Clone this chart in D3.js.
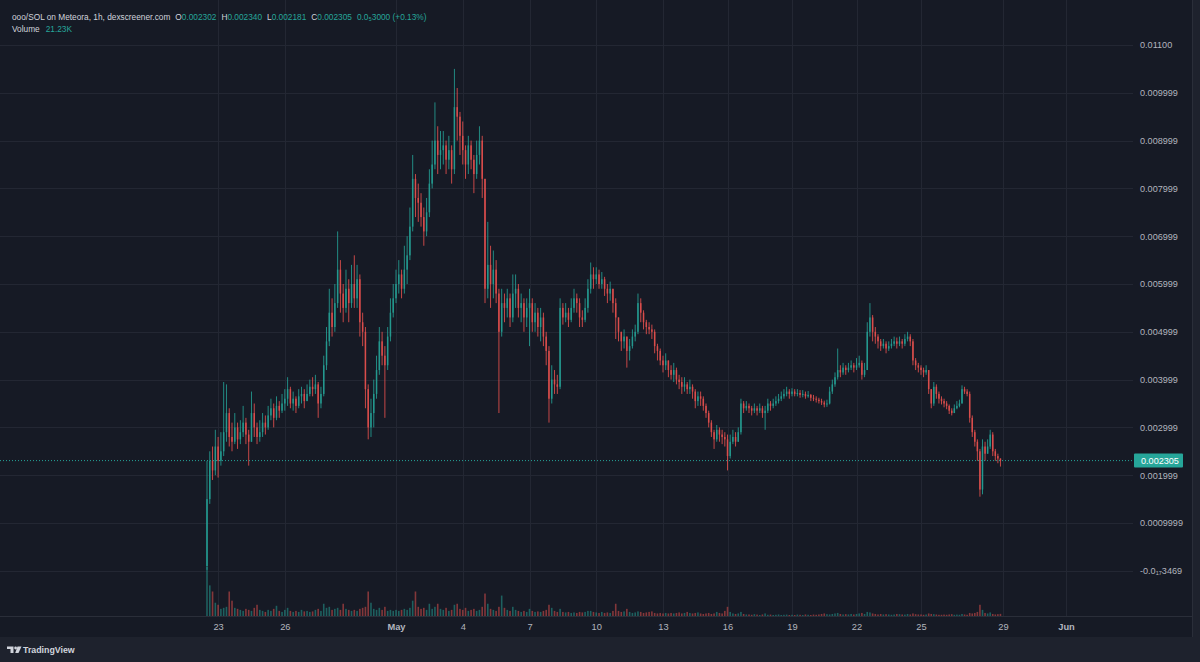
<!DOCTYPE html>
<html>
<head>
<meta charset="utf-8">
<script src="https://cdn.jsdelivr.net/npm/d3@7"></script>
<style>
	body { margin: 0; background: #1e222d; }
	svg { display: block; }
</style>
</head>
<body>
<div id="chart"></div>
<script>
// ooo/SOL, bars of 3h, prices in millionths of SOL
const startTime = new Date(2024, 3, 22, 12);
const barHours = 3;
const firstOpenU = 100;

const closeU = [
	1500, 2300, 2100, 2600,
	2300, 2500, 2900, 3300, 2800, 2700, 3000, 2750,
	2900, 3100, 2850, 2700, 3300, 3000, 2800, 2900,
	3100, 3000, 3250, 3400, 3200, 3450, 3350, 3500,
	3600, 3800, 3500, 3600, 3450, 3650, 3700, 3550,
	3700, 3850, 3800, 3900, 3500, 3700, 4300, 4800,
	5400, 5100, 5600, 6300, 5800, 5500, 5900, 5600,
	6000, 5700, 6100, 5200, 5000, 3800, 3000, 3300,
	3700, 4200, 4800, 4500, 4300, 4900, 5400, 5700,
	6000, 6200, 5900, 6300, 6600, 7200, 8200, 7800,
	7700, 7400, 7100, 7500, 8100, 8500, 9000, 8700,
	8800, 8900, 8600, 8800, 8400, 9700, 9500, 9100,
	8800, 8500, 8900, 8600, 8300, 8700, 9000, 8200,
	5900, 6400, 6000, 6300, 5800, 5000, 5600, 5500,
	5700, 5300, 5800, 5900, 5500, 5600, 5300, 5500,
	5600, 5200, 5400, 5100, 5300, 4900, 4600, 3600,
	4000, 3900, 3850, 5500, 5300, 5400, 5250, 5500,
	5700, 5600, 5300, 5250, 5500, 5900, 6200, 6100,
	6200, 6000, 6100, 5900, 5800, 5900, 5600, 5300,
	5000, 4800, 4900, 4600, 4700, 4900, 5000, 5600,
	5400, 5200, 5100, 5050, 5000, 4700, 4600, 4400,
	4300, 4400, 4200, 4100, 4200, 4000, 3950, 3850,
	3900, 3800, 3850, 3750, 3550, 3650, 3600, 3450,
	3300, 3100, 2900, 2750, 2950, 2850, 2800, 2750,
	2400, 2700, 2800, 2700, 2900, 3500, 3400, 3450,
	3400, 3350, 3400, 3350, 3400, 3300, 3350, 3500,
	3450, 3500, 3550, 3600, 3650, 3700, 3750, 3700,
	3750, 3700, 3720, 3680, 3700, 3650, 3680, 3620,
	3600, 3580, 3550, 3520, 3480, 3500, 3750, 3900,
	4050, 4200, 4150, 4250, 4200, 4250, 4300, 4250,
	4300, 4350, 4100, 4200, 5000, 5300, 5000, 4900,
	4800, 4700, 4750, 4650, 4700, 4750, 4800, 4750,
	4800, 4750, 4850, 4900, 4800, 4400, 4300, 4250,
	4200, 4150, 4200, 3800, 3500, 3850, 3700, 3600,
	3550, 3500, 3450, 3350, 3300, 3400, 3450, 3500,
	3800, 3750, 3700, 3200, 2900, 2700, 2500, 1700,
	2600, 2450, 2600, 2850, 2500, 2400, 2350, 2305
];

const highU = [
	2300, 2500, 2600, 2950,
	2800, 2900, 3950, 3900, 3400, 3100, 3300, 3100,
	3150, 3450, 3200, 2950, 3750, 3500, 3100, 3150,
	3300, 3250, 3450, 3600, 3500, 3650, 3550, 3700,
	3800, 4050, 3850, 3750, 3650, 3800, 3850, 3800,
	3900, 4000, 4050, 4100, 3950, 3850, 4500, 5100,
	5900, 5700, 6000, 7100, 6500, 6000, 6300, 6100,
	6400, 6600, 6400, 6200, 5400, 5100, 3900, 3600,
	4000, 4500, 5100, 5000, 4700, 5100, 5700, 6000,
	6300, 6500, 6300, 6800, 7000, 7600, 8700, 8300,
	8100, 7900, 7600, 7800, 8400, 9000, 9800, 9300,
	9200, 9200, 9000, 9100, 8900, 10500, 10100, 9600,
	9400, 8900, 9100, 9000, 8700, 9000, 9300, 9100,
	8000, 7300, 6800, 6700, 6500, 5900, 5900, 5800,
	5900, 5800, 6200, 6200, 6000, 5800, 5700, 5700,
	5900, 5700, 5600, 5500, 5500, 5400, 5000, 4700,
	4300, 4200, 4100, 5700, 5600, 5600, 5500, 5700,
	5900, 5800, 5700, 5450, 5700, 6100, 6450, 6350,
	6350, 6300, 6250, 6150, 6000, 6050, 5900, 5700,
	5300, 5000, 5050, 4900, 4850, 5050, 5150, 5800,
	5700, 5450, 5250, 5200, 5150, 5050, 4750, 4650,
	4500, 4550, 4400, 4300, 4350, 4250, 4100, 4050,
	4050, 3950, 4000, 3900, 3800, 3750, 3750, 3650,
	3500, 3350, 3150, 2950, 3050, 3000, 2950, 2900,
	2850, 2850, 2950, 2900, 3000, 3600, 3550, 3550,
	3500, 3450, 3500, 3450, 3500, 3450, 3450, 3600,
	3550, 3600, 3650, 3700, 3750, 3800, 3850, 3800,
	3820, 3800, 3800, 3780, 3780, 3750, 3760, 3700,
	3680, 3650, 3620, 3600, 3560, 3580, 3850, 4000,
	4150, 4650, 4300, 4350, 4300, 4350, 4400, 4350,
	4450, 4500, 4400, 4350, 5200, 5600, 5350, 5100,
	4950, 4850, 4850, 4800, 4800, 4850, 4900, 4880,
	4900, 4850, 4950, 5000, 4950, 4850, 4450, 4350,
	4300, 4250, 4300, 4200, 3800, 3950, 3900, 3750,
	3650, 3600, 3550, 3480, 3400, 3480, 3550, 3580,
	3880, 3850, 3800, 3750, 3250, 2950, 2750, 2550,
	2750, 2700, 2750, 2950, 2900, 2550, 2450, 2340
];

const lowU = [
	20, 1400, 1900, 2000,
	1950, 2200, 2400, 2700, 2600, 2500, 2650, 2550,
	2650, 2800, 2650, 2200, 2700, 2800, 2650, 2700,
	2800, 2850, 2950, 3150, 3000, 3150, 3200, 3300,
	3350, 3450, 3400, 3350, 3300, 3400, 3500, 3400,
	3550, 3650, 3650, 3700, 3200, 3400, 3650, 4200,
	4700, 4900, 5000, 5500, 5400, 5200, 5400, 5200,
	5500, 5500, 5500, 4900, 4700, 3400, 2750, 2800,
	3000, 3600, 4100, 4300, 3200, 4200, 4800, 5300,
	5600, 5800, 5700, 5800, 6000, 6500, 7100, 7400,
	7300, 7200, 6800, 7000, 7400, 8000, 8400, 8300,
	8400, 8500, 8300, 8400, 8100, 8300, 9000, 8700,
	8500, 8200, 8300, 8400, 7900, 8200, 8500, 7800,
	5600, 5700, 5500, 5700, 5600, 3300, 4900, 5200,
	5300, 5100, 5200, 5500, 5300, 5200, 5000, 5100,
	4700, 5000, 5000, 4900, 4800, 4700, 4300, 3100,
	3500, 3700, 3700, 3800, 5150, 5200, 5100, 5200,
	5400, 5400, 5100, 5100, 5200, 5400, 5800, 5900,
	6000, 5900, 5900, 5750, 5600, 5650, 5400, 4850,
	4800, 4600, 4650, 4250, 4400, 4650, 4800, 4950,
	5200, 5050, 4950, 4950, 4850, 4550, 4400, 4300,
	4150, 4200, 4050, 4000, 3950, 3900, 3800, 3700,
	3750, 3700, 3700, 3600, 3400, 3450, 3450, 3350,
	3200, 3000, 2800, 2550, 2700, 2700, 2650, 2600,
	2100, 2350, 2650, 2600, 2700, 2850, 3300, 3350,
	3300, 3250, 3300, 3250, 3300, 3200, 2950, 3300,
	3350, 3400, 3450, 3500, 3550, 3600, 3650, 3600,
	3650, 3650, 3650, 3620, 3630, 3600, 3620, 3550,
	3550, 3520, 3500, 3470, 3420, 3430, 3480, 3700,
	3850, 4000, 4050, 4100, 4100, 4150, 4200, 4150,
	4200, 4250, 4000, 4050, 4200, 4900, 4800, 4750,
	4650, 4600, 4650, 4550, 4600, 4650, 4700, 4650,
	4700, 4650, 4700, 4800, 4700, 4300, 4200, 4150,
	4100, 4050, 4100, 3700, 3400, 3450, 3600, 3500,
	3480, 3420, 3380, 3280, 3250, 3300, 3380, 3420,
	3500, 3700, 3650, 3100, 2800, 2600, 2300, 1550,
	1600, 2300, 2450, 2550, 2400, 2300, 2250, 2181
];

// volume per bar, thousands
const volumeK = [
	480, 300, 240, 130,
	110, 70, 80, 90, 240, 150, 80, 70,
	60, 50, 70, 60, 50, 80, 110, 60,
	50, 40, 60, 50, 70, 100, 50, 40,
	60, 80, 50, 40, 50, 40, 60, 45,
	50, 40, 45, 60, 70, 50, 120, 80,
	90, 60, 70, 80, 60, 120, 70, 60,
	50, 60, 50, 70, 80, 90, 240, 130,
	70, 60, 80, 60, 90, 50, 60, 50,
	60, 50, 60, 70, 60, 80, 150, 240,
	90, 70, 80, 60, 120, 70, 90, 120,
	70, 60, 80, 50, 60, 110, 120, 70,
	60, 80, 50, 60, 70, 50, 60, 90,
	220, 120, 70, 60, 50, 90, 200, 80,
	60, 50, 90, 60, 50, 40, 50, 40,
	70, 50, 40, 45, 40, 50, 60, 110,
	80, 50, 40, 70, 40, 35, 40, 30,
	35, 30, 40, 35, 40, 50, 50, 40,
	35, 30, 40, 30, 35, 30, 50, 120,
	50, 40, 45, 70, 40, 30, 35, 45,
	40, 30, 35, 40, 45, 30, 25, 30,
	25, 30, 25, 30, 25, 30, 35, 25,
	30, 40, 30, 25, 30, 35, 25, 20,
	25, 30, 20, 25, 40, 30, 25, 50,
	90, 40, 25, 20, 25, 40, 20, 15,
	15, 12, 18, 14, 10, 15, 25, 12,
	14, 10, 12, 15, 10, 12, 14, 10,
	12, 10, 14, 12, 10, 15, 12, 10,
	14, 12, 15, 20, 25, 18, 15, 20,
	25, 30, 20, 15, 18, 15, 20, 15,
	20, 25, 30, 20, 40, 35, 25, 20,
	15, 20, 15, 18, 15, 12, 15, 20,
	18, 15, 14, 20, 15, 25, 18, 15,
	15, 12, 15, 25, 20, 18, 15, 12,
	12, 14, 12, 15, 18, 12, 14, 12,
	20, 15, 12, 30, 25, 30, 40, 110,
	60, 30, 25, 35, 20, 15, 18, 21
];

const priceTicks = [0.011, 0.009999, 0.008999, 0.007999, 0.006999, 0.005999,
	0.004999, 0.003999, 0.002999, 0.001999, 0.0009999, -3.469e-18];
const priceTickLabels = ["0.01100", "0.009999", "0.008999", "0.007999", "0.006999", "0.005999",
	"0.004999", "0.003999", "0.002999", "0.001999", "0.0009999", "-0.0\u2081\u20873469"];

const timeTicks = [
	new Date(2024, 3, 23), new Date(2024, 3, 26), new Date(2024, 4, 1), new Date(2024, 4, 4),
	new Date(2024, 4, 7), new Date(2024, 4, 10), new Date(2024, 4, 13), new Date(2024, 4, 16),
	new Date(2024, 4, 19), new Date(2024, 4, 22), new Date(2024, 4, 25), new Date(2024, 4, 29),
	new Date(2024, 5, 1)
];

const lastPrice = 0.002305;
const legendTitle = "ooo/SOL on Meteora, 1h, dexscreener.com";
const legendKeys = ["O", "H", "L", "C"];
const legendValues = ["0.002302", "0.002340", "0.002181", "0.002305"];
const legendChange = "0.0\u20853000 (+0.13%)";
const legendVolume = "21.23K";

const upColor = "#26a69a";
const downColor = "#ef5350";
const gridColor = "#232733";
const textColor = "#b2b5be";
const font = "'Liberation Sans', Arial, sans-serif";

const width = 1200;
const height = 662;
const paneRight = 1192;
const paneBottom = 637;
const plotRight = 1133;
const timeAxisTop = 616;

const candles = closeU.map((c, i) => {
	const o = i ? closeU[i - 1] : firstOpenU;
	return {
		date: d3.timeHour.offset(startTime, i * barHours),
		open: o / 1e6,
		close: c / 1e6,
		high: Math.max(highU[i], o, c) / 1e6,
		low: Math.min(lowU[i], o, c) / 1e6,
		volume: volumeK[i]
	};
});

const svg = d3.select("#chart").append("svg")
	.attr("width", width)
	.attr("height", height);

svg.append("rect")
	.attr("width", width)
	.attr("height", height)
	.attr("fill", "#1e222d");

svg.append("rect")
	.attr("width", paneRight)
	.attr("height", paneBottom)
	.attr("fill", "#161a25");

// time axis is bar based in the original, so the scale is calibrated on a few dates
const x = d3.scaleTime()
	.domain([startTime, new Date(2024, 4, 1), new Date(2024, 4, 13), new Date(2024, 4, 25), new Date(2024, 4, 29), new Date(2024, 5, 1)])
	.range([207, 396, 663, 921, 1003, 1066]);

const y = d3.scaleLinear()
	.domain([0, 0.011])
	.range([570.8, 45]);

const yVol = d3.scaleLinear()
	.domain([0, 480])
	.range([timeAxisTop, 567]);

// grid
svg.append("g")
	.selectAll("line")
	.data(priceTicks)
	.join("line")
	.attr("x1", 0)
	.attr("x2", plotRight)
	.attr("y1", d => Math.round(y(d)) + 0.5)
	.attr("y2", d => Math.round(y(d)) + 0.5)
	.attr("stroke", gridColor);

svg.append("g")
	.selectAll("line")
	.data(timeTicks)
	.join("line")
	.attr("x1", d => Math.round(x(d)) + 0.5)
	.attr("x2", d => Math.round(x(d)) + 0.5)
	.attr("y1", 0)
	.attr("y2", timeAxisTop)
	.attr("stroke", gridColor);

svg.append("line")
	.attr("x1", 0).attr("x2", paneRight)
	.attr("y1", timeAxisTop + 0.5).attr("y2", timeAxisTop + 0.5)
	.attr("stroke", "#2a2e39");

svg.append("line")
	.attr("x1", paneRight + 0.5).attr("x2", paneRight + 0.5)
	.attr("y1", 0).attr("y2", paneBottom)
	.attr("stroke", "#2a2e39");

const colorOf = d => d.close >= d.open ? upColor : downColor;

// volume
svg.append("g")
	.selectAll("rect")
	.data(candles)
	.join("rect")
	.attr("x", d => x(d.date) - 0.8)
	.attr("width", 1.6)
	.attr("y", d => yVol(d.volume))
	.attr("height", d => yVol(0) - yVol(d.volume))
	.attr("fill", colorOf)
	.attr("fill-opacity", 0.5);

// candles
const candle = svg.append("g")
	.attr("opacity", 0.9)
	.selectAll("g")
	.data(candles)
	.join("g");

candle.append("line")
	.attr("x1", d => x(d.date))
	.attr("x2", d => x(d.date))
	.attr("y1", d => y(d.high))
	.attr("y2", d => y(d.low))
	.attr("stroke", colorOf)
	.attr("stroke-width", 0.9);

candle.append("rect")
	.attr("x", d => x(d.date) - 0.75)
	.attr("width", 1.5)
	.attr("y", d => y(Math.max(d.open, d.close)))
	.attr("height", d => Math.max(1, Math.abs(y(d.open) - y(d.close))))
	.attr("fill", colorOf);

// last price
svg.append("line")
	.attr("x1", 0)
	.attr("x2", 1134)
	.attr("y1", y(lastPrice))
	.attr("y2", y(lastPrice))
	.attr("stroke", upColor)
	.attr("stroke-dasharray", "1,2");

// price scale
svg.append("g")
	.attr("transform", "translate(1140,0)")
	.call(d3.axisRight(y)
		.tickValues(priceTicks)
		.tickFormat((d, i) => priceTickLabels[i])
		.tickSize(0)
		.tickPadding(0))
	.call(g => g.select(".domain").remove())
	.call(g => g.selectAll("text")
		.attr("fill", textColor)
		.attr("font-size", 9.1)
		.attr("font-family", font));

svg.append("rect")
	.attr("x", 1134)
	.attr("y", y(lastPrice) - 7)
	.attr("width", 49)
	.attr("height", 14)
	.attr("rx", 1)
	.attr("fill", upColor);

svg.append("text")
	.attr("x", 1141)
	.attr("y", y(lastPrice))
	.attr("dy", "0.32em")
	.attr("fill", "#ffffff")
	.attr("font-size", 9.1)
	.attr("font-family", font)
	.text(d3.format(".6f")(lastPrice));

// time scale
svg.append("g")
	.attr("transform", `translate(0,${timeAxisTop + 7})`)
	.call(d3.axisBottom(x)
		.tickValues(timeTicks)
		.tickFormat(d => d.getDate() === 1 ? d3.timeFormat("%b")(d) : d3.timeFormat("%-d")(d))
		.tickSize(0)
		.tickPadding(0))
	.call(g => g.select(".domain").remove())
	.call(g => g.selectAll("text")
		.attr("fill", textColor)
		.attr("font-size", 9.3)
		.attr("font-family", font)
		.attr("font-weight", d => d.getDate() === 1 ? "bold" : null));

// legend
const legend = svg.append("text")
	.attr("x", 12)
	.attr("y", 17)
	.attr("dy", "0.35em")
	.attr("font-size", 8.3)
	.attr("font-family", font);

legend.append("tspan").attr("fill", "#d1d4dc").text(legendTitle);
legendKeys.forEach((k, i) => {
	legend.append("tspan").attr("dx", 5).attr("fill", "#d1d4dc").text(k);
	legend.append("tspan").attr("fill", upColor).text(legendValues[i]);
});
legend.append("tspan").attr("dx", 5).attr("fill", upColor).text(legendChange);

const volLegend = svg.append("text")
	.attr("x", 12)
	.attr("y", 29.5)
	.attr("dy", "0.35em")
	.attr("font-size", 8.3)
	.attr("font-family", font);
volLegend.append("tspan").attr("fill", "#d1d4dc").text("Volume");
volLegend.append("tspan").attr("dx", 6).attr("fill", upColor).text(legendVolume);

// TradingView mark
const logo = svg.append("g").attr("fill", "#d1d4dc");
logo.append("path").attr("d", "M7,646.5 h6.5 v6.5 h-3 v-4 h-3.5 z");
logo.append("circle").attr("cx", 15.6).attr("cy", 648).attr("r", 1.4);
logo.append("path").attr("d", "M17.5,646.5 h4 l-3,6.5 h-3.3 z");
svg.append("text")
	.attr("x", 23)
	.attr("y", 650)
	.attr("dy", "0.35em")
	.attr("fill", "#d1d4dc")
	.attr("font-size", 8.8)
	.attr("font-weight", "bold")
	.attr("font-family", font)
	.text("TradingView");
</script>
</body>
</html>
